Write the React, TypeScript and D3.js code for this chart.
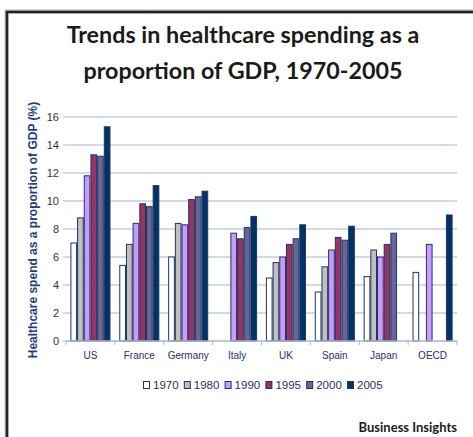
import React from "react";
import * as d3 from "d3";

const categories = ["US", "France", "Germany", "Italy", "UK", "Spain", "Japan", "OECD"];
const years = ["1970", "1980", "1990", "1995", "2000", "2005"];
const v1970: (number | null)[] = [7.0, 5.4, 6.0, null, 4.5, 3.5, 4.6, 4.9];
const v1980: (number | null)[] = [8.8, 6.9, 8.4, null, 5.6, 5.3, 6.5, null];
const v1990: (number | null)[] = [11.8, 8.4, 8.3, 7.7, 6.0, 6.5, 6.0, 6.9];
const v1995: (number | null)[] = [13.3, 9.8, 10.1, 7.3, 6.9, 7.4, 6.9, null];
const v2000: (number | null)[] = [13.2, 9.6, 10.3, 8.1, 7.3, 7.2, 7.7, null];
const v2005: (number | null)[] = [15.3, 11.1, 10.7, 8.9, 8.3, 8.2, null, 9.0];
const seriesValues = [v1970, v1980, v1990, v1995, v2000, v2005];
const colors = ["#FFFFFF", "#C0C0C0", "#CC99FF", "#993366", "#666699", "#003366"];
const yTicks = [0, 2, 4, 6, 8, 10, 12, 14, 16];

export default function App() {
  const W = 473, H = 437;
  const left = 66, right = 457, top = 117, bottom = 341;
  const x0 = d3.scaleBand<string>().domain(categories).range([left, right]).padding(0);
  const bw = x0.bandwidth();
  const x1 = d3.scaleBand<string>().domain(years).range([bw * 0.09, bw * 0.91]).padding(0);
  const y = d3.scaleLinear().domain([0, 16]).range([bottom, top]);
  const legendX = d3.scalePoint<string>().domain(years).range([143, 347]);

  return (
    <svg width={W} height={H} style={{ position: "absolute", left: 0, top: 0 }}>
      <rect x={0} y={0} width={W} height={H} fill="#fff" />
      {/* frame */}
      <path d={`M6.5,${H} V11.5 H${W}`} fill="none" stroke="#bbb" strokeWidth={4} />
      <path d={`M7,${H} V12 H${W}`} fill="none" stroke="#222" strokeWidth={2.5} />
      {/* title */}
      <g fontFamily="Lato" fontWeight={700} fontSize={23.3} fill="#1a1a1a" textAnchor="middle">
        <text x={243} y={43}>Trends in healthcare spending as a</text>
        <text x={243} y={79}>proportion of GDP, 1970-2005</text>
      </g>
      {/* gridlines */}
      {yTicks.map((t) => (
        <g key={t}>
          {t > 0 && <line x1={left} x2={right} y1={y(t)} y2={y(t)} stroke="#A8B6C8" strokeWidth={1} />}
          <line x1={left - 3} x2={left} y1={y(t)} y2={y(t)} stroke="#A8B6C8" />
          <text x={59} y={y(t) + 4} textAnchor="end" fontFamily="Arial, Liberation Sans" fontSize={11} fill="#333">{t}</text>
        </g>
      ))}
      {/* bars */}
      {categories.map((c, ci) => (
        <g key={c} transform={`translate(${x0(c)},0)`}>
          {years.map((yr, si) => {
            const v = seriesValues[si][ci];
            if (v == null) return null;
            return (
              <rect key={yr} x={x1(yr)! + 0.5} y={y(v)} width={x1.bandwidth() - 1} height={y(0) - y(v)}
                fill={colors[si]} stroke="#1F3560" strokeWidth={1} />
            );
          })}
        </g>
      ))}
      {/* x axis */}
      <line x1={left} x2={right} y1={bottom} y2={bottom} stroke="#A8B6C8" strokeWidth={1.5} />
      {categories.map((c) => (
        <line key={c} x1={x0(c)!} x2={x0(c)!} y1={bottom} y2={bottom + 4} stroke="#A8B6C8" />
      ))}
      <line x1={right} x2={right} y1={bottom} y2={bottom + 4} stroke="#A8B6C8" />
      {categories.map((c) => (
        <text key={c} x={x0(c)! + bw / 2} y={359} textAnchor="middle" fontFamily="Arial, Liberation Sans" fontSize={10} fill="#1F3060">{c}</text>
      ))}
      {/* y label */}
      <text transform={`translate(37,230) rotate(-90)`} textAnchor="middle" fontFamily="Arial, Liberation Sans" fontWeight={700} fontSize={12} fill="#1F3F7F">
        Healthcare spend as a proportion of GDP (%)
      </text>
      {/* legend */}
      {years.map((yr, i) => (
        <g key={yr} transform={`translate(${legendX(yr)},385)`}>
          <rect x={0.5} y={-3.5} width={6} height={7} fill={colors[i]} stroke="#1F3560" strokeWidth={1} />
          <text x={10} y={4} fontFamily="Arial, Liberation Sans" fontSize={11.5} fill="#1F3060">{yr}</text>
        </g>
      ))}
      <text x={457} y={432} textAnchor="end" fontFamily="Lato" fontWeight={700} fontSize={13} fill="#1a1a1a">Business Insights</text>
    </svg>
  );
}
